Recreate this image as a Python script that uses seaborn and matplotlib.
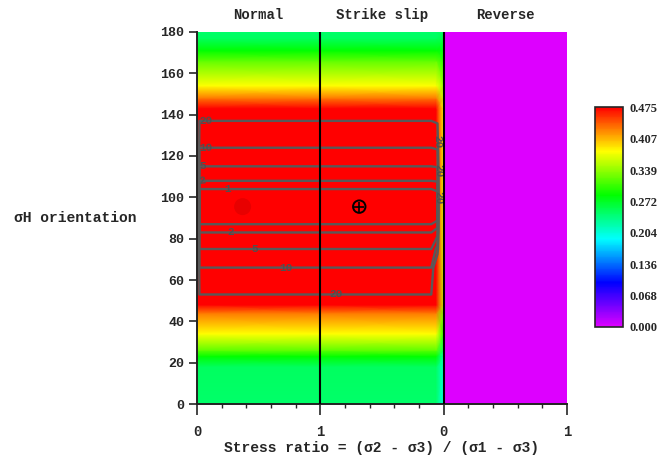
import numpy as np
import matplotlib
matplotlib.use("Agg")
import matplotlib.pyplot as plt
from matplotlib.colors import LinearSegmentedColormap
import seaborn as sns

# --- data ---
panel_names = ["Normal", "Strike slip", "Reverse"]
x_major = [0, 1, 2, 3]
x_major_labels = ["0", "1", "0", "1"]
x_minor = [0.2, 0.4, 0.6, 0.8, 1.2, 1.4, 1.6, 1.8, 2.2, 2.4, 2.6, 2.8]
y_ticks = [0, 20, 40, 60, 80, 100, 120, 140, 160, 180]

# colour field (fit quality) against sigma-H orientation
heat_y = [0, 18, 23, 26, 34, 44, 48, 143, 148, 154, 166, 171, 177, 180]
heat_main = [0.245, 0.25, 0.285, 0.32, 0.38, 0.43, 0.475, 0.475, 0.43, 0.38, 0.32, 0.285, 0.25, 0.245]
heat_edge = [0.20, 0.21, 0.22, 0.25, 0.30, 0.33, 0.36, 0.38, 0.36, 0.34, 0.30, 0.28, 0.26, 0.25]
heat_x = [0.0, 1.0, 1.94, 2.0]
reverse_value = 0.0

# misfit contours (closed loops over normal + strike slip)
mis_y = [0, 20, 40, 53, 66, 75, 83, 87, 95, 104, 108, 115, 124, 137, 150, 165, 180]
mis_inner = [90, 60, 35, 20, 10, 5, 2, 1, 0.2, 1, 2, 5, 10, 20, 35, 60, 90]
mis_near_edge = [99, 99, 99, 99, 40, 12, 3, 1.2, 0.3, 1.1, 2.1, 5.2, 10.5, 21, 36, 61, 91]
mis_wall = 99
mis_x = [0.0, 0.02, 1.0, 1.9, 1.95, 2.0]
contour_levels = [1, 2, 5, 10, 20]
label_spots = [(0.07, 136.6), (0.07, 123.7), (0.05, 115.3), (0.04, 108.4), (0.25, 104.3),
               (0.27, 82.9), (0.47, 75.3), (0.72, 66.4), (1.13, 53.1),
               (1.97, 127), (1.97, 113), (1.97, 100)]

best_normal = ([0.37], [95.5])
best_strike = ([1.316], [95.5])

cbar_ticks = [0.0, 0.068, 0.136, 0.204, 0.272, 0.339, 0.407, 0.475]
cbar_labels = ["0.000", "0.068", "0.136", "0.204", "0.272", "0.339", "0.407", "0.475"]

sns.set_style("ticks")
plt.rcParams["font.family"] = ["Liberation Mono", "DejaVu Sans Mono"]
plt.rcParams["font.weight"] = "bold"

cmap = LinearSegmentedColormap.from_list(
    "hue", ["#dd00ff", "#0000ff", "#00ffff", "#00ff00", "#ffff00", "#ff0000"])

fig = plt.figure(figsize=(6.63, 4.59), dpi=100)
ax = fig.add_axes([0.2971, 0.1198, 0.558, 0.8105])
cax = fig.add_axes([0.8974, 0.2876, 0.0422, 0.479])

z_heat = np.column_stack([heat_main, heat_main, heat_main, heat_edge])
mesh = ax.pcolormesh(heat_x, heat_y, z_heat, shading="gouraud", cmap=cmap, vmin=0, vmax=0.475)
ax.pcolormesh([2.0, 3.0], [0, 180], np.full((2, 2), reverse_value), shading="gouraud",
              cmap=cmap, vmin=0, vmax=0.475)

wall = [mis_wall] * len(mis_y)
z_mis = np.column_stack([wall, mis_inner, mis_inner, mis_inner, mis_near_edge, wall])
cs = ax.contour(mis_x, mis_y, z_mis, levels=contour_levels, colors="#595959", linewidths=1.7)
texts = ax.clabel(cs, levels=contour_levels, manual=label_spots, inline=False,
                  fontsize=8, colors="#505050", fmt="%d")
for t in texts:
    t.set_fontweight("bold")

sns.scatterplot(x=best_normal[0], y=best_normal[1], ax=ax, s=150, color="#e80000",
                edgecolor="none", zorder=5)
ax.scatter(best_strike[0], best_strike[1], s=80, facecolor="none", edgecolor="black",
           linewidth=1.4, zorder=6)
sns.scatterplot(x=best_strike[0], y=best_strike[1], ax=ax, s=60, marker="+", color="black",
                linewidth=1.2, zorder=6)

ax.axvline(1, color="black", lw=1.5, zorder=4)
ax.axvline(2, color="black", lw=1.5, zorder=4)

ax.set_xlim(0, 3)
ax.set_ylim(0, 180)
ax.set_xticks(x_major)
ax.set_xticklabels(x_major_labels)
ax.set_xticks(x_minor, minor=True)
ax.set_yticks(y_ticks)
ax.tick_params(axis="x", which="major", direction="out", length=8, width=1.2, pad=7, labelsize=10)
ax.tick_params(axis="x", which="minor", direction="inout", length=6, width=1.0)
ax.tick_params(axis="y", direction="out", length=6, width=1.2, pad=3, labelsize=9.5)
for side in ["top", "right"]:
    ax.spines[side].set_visible(False)
for side in ["left", "bottom"]:
    ax.spines[side].set_linewidth(1.4)
    ax.spines[side].set_color("#222222")

for i, name in enumerate(panel_names):
    ax.text(i + 0.5, 1.046, name, transform=ax.get_xaxis_transform(),
            ha="center", va="center", fontsize=10, fontweight="bold")

ax.set_xlabel("Stress ratio = (σ2 - σ3) / (σ1 - σ3)", fontsize=10.5, fontweight="bold")
ax.xaxis.set_label_coords(0.5, -0.118)
ax.xaxis.label.set_va("center")
ax.set_ylabel("σH orientation", rotation=0, ha="center", va="center",
              fontsize=10.5, fontweight="bold")
ax.yaxis.set_label_coords(-0.33, 0.5)

cb = fig.colorbar(mesh, cax=cax)
cb.set_ticks(cbar_ticks)
cb.set_ticklabels(cbar_labels)
cax.tick_params(length=0, pad=5)
for t in cax.get_yticklabels():
    t.set_family("Liberation Serif")
    t.set_fontweight("bold")
    t.set_fontsize(9)
cb.outline.set_linewidth(1.2)

fig.savefig("out.png", dpi=100)
